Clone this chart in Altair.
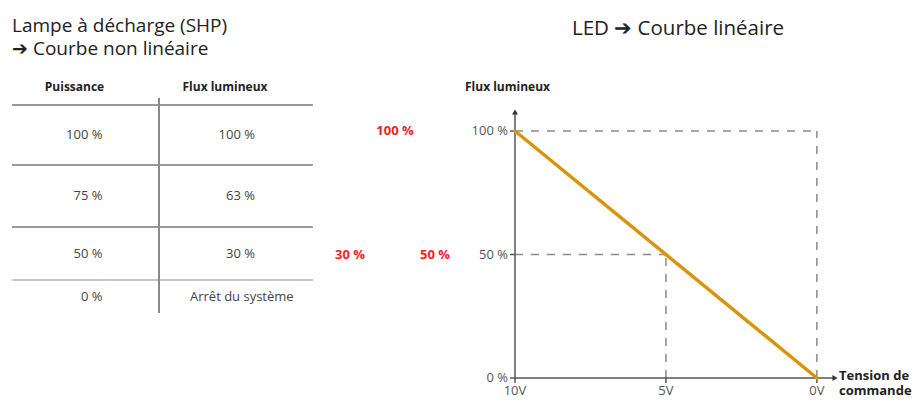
import altair as alt
import pandas as pd

# ---------------- data ----------------
col_headers = ["Puissance", "Flux lumineux"]
puissance = ["100 %", "75 %", "50 %", "0 %"]
flux_shp = ["100 %", "63 %", "30 %", "Arrêt du système"]

led_tension = [10, 0]      # V
led_flux = [100, 0]        # %

guide_tension = [0, 5]     # corners of the dashed reference lines
guide_flux = [100, 50]

x_ticks = [10, 5, 0]
y_ticks = [0, 50, 100]

red_labels = ["100 %", "30 %", "50 %"]
red_levels = [100, 50, 50]

title_shp = ["Lampe à décharge (SHP)", "➔ Courbe non linéaire"]
title_led = "LED ➔ Courbe linéaire"
y_title = "Flux lumineux"
x_title = ["Tension de", "commande"]

# ---------------- layout ----------------
W, H = 906, 390
FONT = "Open Sans"
X_END, Y_END = -0.6, 107.7   # axis extents (arrow tips)
AX = "#555"

x_led = alt.Scale(domain=[max(x_ticks), X_END], range=[507, 827], nice=False, zero=False)
y_led = alt.Scale(domain=[0, Y_END], range=[370, 104], nice=False, zero=False)

def X(f):
    return alt.X(f, scale=x_led, axis=None)

def Y(f):
    return alt.Y(f, scale=y_led, axis=None)

one = pd.DataFrame({"k": [0]})

# ---- LED chart ----
line_df = pd.DataFrame({"tension": led_tension, "flux": led_flux})
line = alt.Chart(line_df).mark_line(color="#D9940E", strokeWidth=3.5, strokeCap="round").encode(
    x=X("tension:Q"), y=Y("flux:Q"))

hdash_df = pd.DataFrame({"x": [max(x_ticks)] * len(guide_tension), "x2": guide_tension, "y": guide_flux})
vdash_df = pd.DataFrame({"x": guide_tension, "y": [0] * len(guide_flux), "y2": guide_flux})
dash_style = dict(color="#8a8a8a", strokeWidth=1.5, strokeDash=[8, 8])
hdash = alt.Chart(hdash_df).mark_rule(**dash_style).encode(x=X("x:Q"), x2="x2:Q", y=Y("y:Q"))
vdash = alt.Chart(vdash_df).mark_rule(**dash_style).encode(x=X("x:Q"), y=Y("y:Q"), y2="y2:Q")

# axes drawn through the scales
yaxis_line = alt.Chart(pd.DataFrame({"x": [max(x_ticks)], "y": [0], "y2": [Y_END]})).mark_rule(
    color=AX, strokeWidth=1.5).encode(x=X("x:Q"), y=Y("y:Q"), y2="y2:Q")
xaxis_line = alt.Chart(pd.DataFrame({"x": [max(x_ticks)], "x2": [X_END], "y": [0]})).mark_rule(
    color=AX, strokeWidth=1.5).encode(x=X("x:Q"), x2="x2:Q", y=Y("y:Q"))

yt_df = pd.DataFrame({"flux": y_ticks, "x": [max(x_ticks)] * len(y_ticks)})
xt_df = pd.DataFrame({"tension": x_ticks, "y": [0] * len(x_ticks)})

ytick = alt.Chart(yt_df).mark_point(shape="M-1,0L0,0", size=100, stroke=AX, strokeWidth=1.5,
                                    filled=False, opacity=1).encode(x=X("x:Q"), y=Y("flux:Q"))
xtick = alt.Chart(xt_df).mark_point(shape="M0,0L0,1", size=100, stroke=AX, strokeWidth=1.5,
                                    filled=False, opacity=1).encode(x=X("tension:Q"), y=Y("y:Q"))
ylab = alt.Chart(yt_df).transform_calculate(lab="datum.flux + ' %'").mark_text(
    font=FONT, fontSize=13, color=AX, align="right", baseline="middle", dx=-7).encode(
    x=X("x:Q"), y=Y("flux:Q"), text="lab:N")
xlab = alt.Chart(xt_df).transform_calculate(lab="datum.tension + 'V'").mark_text(
    font=FONT, fontSize=13, color=AX, align="center", baseline="top", dy=7).encode(
    x=X("tension:Q"), y=Y("y:Q"), text="lab:N")

arrow_up = alt.Chart(pd.DataFrame({"x": [max(x_ticks)], "y": [Y_END]})).mark_point(
    shape="triangle-up", filled=True, color="#333", size=35, opacity=1).encode(x=X("x:Q"), y=Y("y:Q"))
arrow_right = alt.Chart(pd.DataFrame({"x": [X_END], "y": [0]})).mark_point(
    shape="triangle-right", filled=True, color="#333", size=35, opacity=1).encode(x=X("x:Q"), y=Y("y:Q"))

red_x = [387, 342, 427]
red_layers = []
for lab, lev, px in zip(red_labels, red_levels, red_x):
    red_layers.append(
        alt.Chart(pd.DataFrame({"label": [lab], "flux": [lev]})).mark_text(
            color="#F01E23", font=FONT, fontSize=13, fontWeight="bold", align="center",
            baseline="middle").encode(x=alt.value(px), y=Y("flux:Q"), text="label:N"))

led = alt.layer(hdash, vdash, yaxis_line, xaxis_line, ytick, xtick, ylab, xlab,
                arrow_up, arrow_right, line, *red_layers)

# ---- SHP table ----
tx = alt.Scale(domain=[0, 1, 2], range=[4, 151, 305], nice=False, zero=False)
ty = alt.Scale(domain=[-1, -0.5, 0.5, 1.5, 2.5, 3.5], range=[79, 97, 157, 219, 272, 305],
               nice=False, zero=False)

def TX(f):
    return alt.X(f, scale=tx, axis=None)

def TY(f):
    return alt.Y(f, scale=ty, axis=None)

n = len(puissance)
hdr_df = pd.DataFrame({"tx": [0.5, 1.5], "ty": [-1, -1], "label": col_headers})
rows_df = pd.DataFrame({"ty": list(range(n)), "p": puissance, "f": flux_shp})
hl_df = pd.DataFrame({"ty": [r - 0.5 for r in range(n)], "tx": [0] * n, "tx2": [2] * n})
vl_df = pd.DataFrame({"tx": [1], "ty": [-0.7], "ty2": [n - 0.5]})

hdr = alt.Chart(hdr_df).mark_text(font=FONT, fontSize=12, fontWeight="bold", color="#222",
                                  align="center", baseline="middle", dx=-11).encode(
    x=TX("tx:Q"), y=TY("ty:Q"), text="label:N")

val_style = dict(font=FONT, fontSize=13, color="#444", baseline="middle")
col_p = alt.Chart(rows_df).transform_calculate(tx="0.5").mark_text(
    align="right", dx=17, **val_style).encode(x=TX("tx:Q"), y=TY("ty:Q"), text="p:N")
col_f_num = alt.Chart(rows_df).transform_filter(f"datum.ty < {n - 1}").transform_calculate(tx="1.5").mark_text(
    align="right", dx=19, **val_style).encode(x=TX("tx:Q"), y=TY("ty:Q"), text="f:N")
col_f_txt = alt.Chart(rows_df).transform_filter(f"datum.ty >= {n - 1}").transform_calculate(tx="1.5").mark_text(
    align="left", dx=-46, **val_style).encode(x=TX("tx:Q"), y=TY("ty:Q"), text="f:N")

hl = alt.Chart(hl_df).mark_rule(strokeWidth=2).encode(
    x=TX("tx:Q"), x2="tx2:Q", y=TY("ty:Q"),
    color=alt.condition(f"datum.ty > {n - 2}", alt.value("#c4c4c4"), alt.value("#9a9a9a")))
vl = alt.Chart(vl_df).mark_rule(strokeWidth=2, color="#8a8a8a").encode(
    x=TX("tx:Q"), y=TY("ty:Q"), y2="ty2:Q")

table = alt.layer(hl, vl, hdr, col_p, col_f_num, col_f_txt)

# ---- titles / axis titles ----
def txt(text, x, y, size, weight="normal", color="#222", align="left", baseline="alphabetic", lh=None):
    kw = dict(font=FONT, fontSize=size, fontWeight=weight, color=color, align=align, baseline=baseline)
    if lh:
        kw["lineHeight"] = lh
    return alt.Chart(one).mark_text(**kw).encode(x=alt.value(x), y=alt.value(y), text=alt.value(text))

titles = alt.layer(
    txt(title_shp, 4, 24, 19, lh=23),
    txt(title_led, 564, 27, 20.5),
    txt(y_title, 457, 79, 12, weight="bold", baseline="middle"),
    txt(x_title, 831, 372, 13, weight="bold", lh=15),
)

chart = alt.layer(led, table, titles).resolve_scale(
    x="independent", y="independent"
).properties(
    width=W, height=H, autosize=alt.AutoSizeParams(type="none"), padding=0, background="white"
).configure_view(stroke=None)

chart.save("out.html", embed_options={"renderer": "svg", "actions": False})
